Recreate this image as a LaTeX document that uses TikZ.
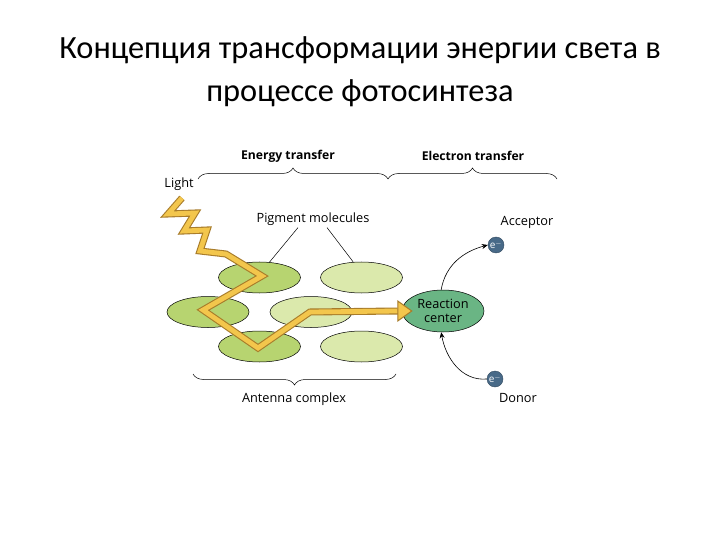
\documentclass[tikz,border=0pt]{standalone}
\usepackage{fontspec}
\setmainfont{Carlito}
\newfontfamily\lblfont{Open Sans}
\usetikzlibrary{shapes.geometric,decorations.pathreplacing,arrows.meta}
\definecolor{darkpig}{RGB}{183,212,112}
\definecolor{lightpig}{RGB}{219,233,172}
\definecolor{rcgreen}{RGB}{106,181,132}
\definecolor{boltfill}{RGB}{243,198,76}
\definecolor{boltedge}{RGB}{168,124,42}
\definecolor{eblue}{RGB}{72,106,136}
\begin{document}
\begin{tikzpicture}[x=1bp,y=-1bp,
  title/.style={font=\fontsize{32.5}{36}\selectfont, inner sep=0pt},
  lbl/.style={font=\lblfont\fontsize{12.8}{14}\selectfont, inner sep=0pt},
  blbl/.style={font=\lblfont\bfseries\fontsize{12.2}{14}\selectfont, inner sep=0pt},
  pig/.style={ellipse, draw=black, line width=0.5bp, minimum width=82bp, minimum height=31bp, inner sep=0pt},
  brc/.style={decorate, decoration={brace, amplitude=11bp}, line width=0.5bp},
  elec/.style={circle, fill=eblue, draw=eblue!70!black, line width=0.4bp, minimum size=16bp, inner sep=0pt, text=white, font=\lblfont\fontsize{10}{11}\selectfont},
  thinarrow/.style={line width=0.6bp, -{Stealth[length=6bp,width=5bp]}},
  boltout/.style={line width=7bp, boltedge, line join=miter, miter limit=5},
  boltin/.style={line width=4.8bp, boltfill, line join=miter, miter limit=5}
]
\useasboundingbox (0,0) rectangle (720,540);
\fill[white] (0,0) rectangle (720,540);

% title
\node[title] (t1) at (360,50) {Концепция трансформации энергии света в};
\node[title] (t2) at (360,93) {процессе фотосинтеза};

% brace labels
\node[blbl] (et) at (288,156) {Energy transfer};
\node[blbl] (elt) at (473,156) {Electron transfer};
\coordinate (b1s) at (198,179);
\coordinate (b1e) at (388,179);
\coordinate (b2e) at (557,179);
\draw[brc] (b1s) -- (b1e);
\draw[brc] (b1e) -- (b2e);

% labels
\node[lbl] (light) at (179,184) {Light};
\node[lbl] (pm) at (313,219) {Pigment molecules};
\node[lbl] (acc) at (527,222) {Acceptor};
\node[lbl] (don) at (518,398) {Donor};
\node[lbl] (ant) at (294,399) {Antenna complex};

% pigment ellipses
\node[pig, fill=darkpig]  (p1) at (259.5,277.5) {};
\node[pig, fill=lightpig] (p2) at (361.5,277.5) {};
\node[pig, fill=darkpig]  (p3) at (208,312) {};
\node[pig, fill=lightpig] (p4) at (311,312) {};
\node[pig, fill=darkpig]  (p5) at (259.5,346.5) {};
\node[pig, fill=lightpig] (p6) at (361.5,346.5) {};

% reaction center
\node[ellipse, draw=black, line width=0.5bp, fill=rcgreen, minimum width=82bp, minimum height=42bp, inner sep=0pt,
      align=center, font=\lblfont\fontsize{12.8}{13.5}\selectfont] (rc) at (443,311) {Reaction\\center};

% pointer lines
\draw[line width=0.5bp] ([xshift=-15bp,yshift=-2bp]pm.south) -- (p1.57);
\draw[line width=0.5bp] ([xshift=14bp,yshift=-2bp]pm.south) -- (p2.118);

% antenna brace
\coordinate (b3s) at (396,374);
\coordinate (b3e) at (193,374);
\draw[brc] (b3s) -- (b3e);

% light path
\coordinate (ls) at (182,198);
\coordinate (le) at ([xshift=-4bp]rc.west);
\draw[boltout]
  (ls) -- (168,214) -- (195,213) -- (184,231) -- (207,230) -- (200,251) -- (226,254) -- (262,276)
  -- (203,310) -- (258,348) -- (310,312) -- (le);
\draw[boltin]
  (ls) -- (168,214) -- (195,213) -- (184,231) -- (207,230) -- (200,251) -- (226,254) -- (262,276)
  -- (203,310) -- (258,348) -- (310,312) -- (le);
\fill[boltfill, draw=boltedge, line width=1bp, line join=miter]
  ([xshift=-4bp,yshift=-10bp]rc.west) -- ([xshift=10bp]rc.west) -- ([xshift=-4bp,yshift=10bp]rc.west) -- cycle;

% electrons
\node[elec] (ea) at (496,245) {e$^{-}$};
\node[elec] (ed) at (495,379) {e$^{-}$};
\draw[thinarrow] (rc.95) to[out=80, in=195] (ea.west);
\draw[thinarrow] (ed.west) to[out=185, in=-80] (rc.-95);
\end{tikzpicture}
\end{document}
